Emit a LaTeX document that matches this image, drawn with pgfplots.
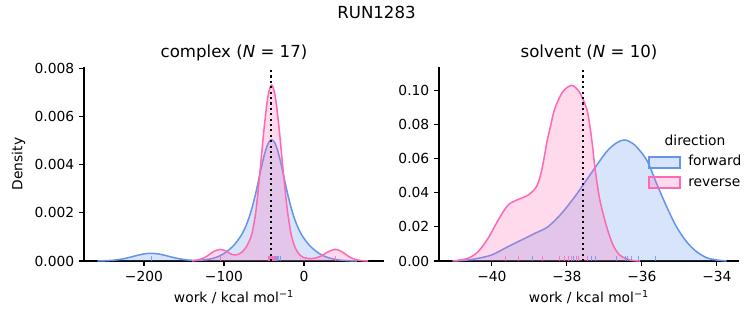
\documentclass[border=0pt]{standalone}
\usepackage{pgfplots}
\usepackage{pgfplotstable}
\pgfplotsset{compat=1.18}
\usepackage{fontspec}
\setmainfont{DejaVu Sans}
\definecolor{fwd}{RGB}{100,149,237}
\definecolor{rev}{RGB}{255,105,180}

\pgfplotstableread{
x y
-258 0
-250 0.000009
-240 0.000027
-230 0.000067
-220 0.000134
-210 0.00022
-200 0.000294
-191 0.00032
-180 0.000282
-170 0.000203
-160 0.00012
-150 0.00006
-140 0.00003
-130 0.000033
-120 0.000067
-110 0.00015
-100 0.00031
-90.5 0.00056
-85.5 0.00074
-80.5 0.00096
-76.5 0.00118
-72.5 0.00146
-68.5 0.00182
-64.5 0.00226
-60.5 0.00279
-56.5 0.00339
-52.5 0.0040
-48.5 0.00453
-44.5 0.0049
-40.5 0.00503
-36.5 0.0049
-32.5 0.00453
-28.5 0.0040
-24.5 0.00339
-20.5 0.00279
-16.5 0.00226
-12.5 0.00182
-8.5 0.00146
-4.5 0.00118
-0.5 0.00096
4.5 0.00074
9.5 0.00056
19.5 0.0003
29.5 0.000146
39.5 0.000063
49.5 0.000025
59.5 0.000008
66 0
}\cfwd

\pgfplotstableread{
x y
-140 0
-135 0.00003
-130 0.000065
-125 0.00013
-120 0.00023
-115 0.00035
-110 0.00044
-105 0.00048
-100 0.00045
-95 0.00036
-90 0.00027
-86 0.00025
-82 0.00028
-78 0.00036
-74 0.0005
-70 0.00072
-65 0.00115
-60 0.0021
-55 0.00372
-50 0.00547
-45 0.00684
-40.5 0.0073
-36 0.00684
-31 0.00547
-26 0.00372
-21 0.00216
-16 0.0011
-11 0.00055
-6 0.00028
-1 0.00015
4 0.00011
9 0.0001
14 0.00012
19 0.00017
24 0.00026
29 0.00036
34 0.00044
39 0.00048
44 0.00044
49 0.00035
54 0.00023
59 0.00013
64 0.000065
69 0.000027
74 0.00001
80 0
}\crev

\pgfplotstableread{
x y
-191 0.0002
-45 0.0002
-42 0.0002
-39 0.0002
-37.5 0.0002
-36 0.0002
-34.5 0.0002
-33 0.0002
-31.5 0.0002
-30 0.0002
}\crugfwd

\pgfplotstableread{
x y
-105 0.0002
-44.6 0.0002
-43.5 0.0002
-42.5 0.0002
-42 0.0002
-41.5 0.0002
-41 0.0002
-40.5 0.0002
-40 0.0002
-39.5 0.0002
-39 0.0002
-38.5 0.0002
-38 0.0002
-37 0.0002
-36 0.0002
39 0.0002
}\crugrev

\pgfplotstableread{
x y
-40.99 0
-40.7 0.0005
-40.45 0.0012
-40.01 0.0035
-39.57 0.0084
-39.21 0.0123
-38.85 0.0162
-38.5 0.0201
-38.14 0.0279
-37.79 0.0376
-37.54 0.0454
-37.3 0.053
-36.94 0.064
-36.67 0.0692
-36.45 0.0708
-36.19 0.0678
-35.87 0.059
-35.61 0.0454
-35.34 0.0318
-35.08 0.0201
-34.81 0.0113
-34.54 0.0054
-34.27 0.0019
-34.01 0.0006
-33.74 0
}\sfwd

\pgfplotstableread{
x y
-41.05 0
-40.85 0.0006
-40.63 0.0016
-40.37 0.0054
-40.1 0.0133
-39.83 0.024
-39.57 0.0327
-39.3 0.036
-39.03 0.0386
-38.81 0.0435
-38.69 0.0513
-38.61 0.060
-38.53 0.0698
-38.43 0.0795
-38.32 0.0893
-38.11 0.099
-37.875 0.1027
-37.67 0.099
-37.475 0.0893
-37.39 0.0795
-37.33 0.0698
-37.28 0.060
-37.23 0.051
-37.12 0.0357
-36.94 0.0201
-36.77 0.0094
-36.59 0.0035
-36.32 0.0006
-36.05 0
}\srev

\pgfplotstableread{
x y
-38.93 0.003
-37.83 0.003
-37.34 0.003
-37.23 0.003
-36.67 0.003
-36.45 0.003
-36.38 0.003
-36.29 0.003
-36.08 0.003
-35.65 0.003
}\srugfwd

\pgfplotstableread{
x y
-39.63 0.003
-39.3 0.003
-38.66 0.003
-38.19 0.003
-38.07 0.003
-37.95 0.003
-37.88 0.003
-37.74 0.003
-37.68 0.003
-37.45 0.003
}\srugrev

\pgfplotsset{
  myaxis/.style={
    scale only axis, width=3in, height=1.94in,
    anchor=south west,
    axis lines=left, axis line style={-, line width=0.8pt},
    tick align=outside, major tick length=3.5pt,
    tick style={line width=0.8pt, black},
    enlargelimits=false, ymin=0,
    tick label style={font=\fontsize{10}{12}\selectfont},
    label style={font=\fontsize{10}{12}\selectfont},
    xlabel={work / kcal mol\textsuperscript{−1}},
    clip=false,
  },
  fillf/.style={draw=none, fill=fwd, fill opacity=0.25, smooth, tension=0.5},
  fillr/.style={draw=none, fill=rev, fill opacity=0.25, smooth, tension=0.5},
  linef/.style={fwd, line width=1.1pt, smooth, tension=0.5, mark=none},
  liner/.style={rev, line width=1.1pt, smooth, tension=0.5, mark=none},
}

\begin{document}
\begin{tikzpicture}
\path[use as bounding box] (0,0) rectangle (7.53in,3.25in);

\begin{axis}[myaxis, at={(0.84in,0.64in)},
  xmin=-275, xmax=100, ymax=0.00805,
  xtick={-200,-100,0}, xticklabels={−200,−100,0},
  ytick={0,0.002,0.004,0.006,0.008},
  yticklabels={0.000,0.002,0.004,0.006,0.008},
  ylabel={Density},
  scaled y ticks=false]
\addplot[fillf] table {\cfwd} \closedcycle;
\addplot[linef] table {\cfwd};
\addplot[fillr] table {\crev} \closedcycle;
\addplot[liner] table {\crev};
\addplot[ycomb, fwd, line width=0.7pt, opacity=0.8, mark=none] table {\crugfwd};
\addplot[ycomb, rev, line width=0.7pt, opacity=0.8, mark=none] table {\crugrev};
\addplot[black, line width=1.5pt, dash pattern=on 1.5pt off 2.4pt] coordinates {(-41.5,0) (-41.5,0.00805)};
\end{axis}

\begin{axis}[myaxis, at={(4.39in,0.64in)},
  xmin=-41.41, xmax=-33.41, ymax=0.1135,
  xtick={-40,-38,-36,-34}, xticklabels={−40,−38,−36,−34},
  ytick={0,0.02,0.04,0.06,0.08,0.1},
  yticklabels={0.00,0.02,0.04,0.06,0.08,0.10},
  scaled y ticks=false]
\addplot[fillf] table {\sfwd} \closedcycle;
\addplot[linef] table {\sfwd};
\addplot[fillr] table {\srev} \closedcycle;
\addplot[liner] table {\srev};
\addplot[ycomb, fwd, line width=0.7pt, opacity=0.8, mark=none] table {\srugfwd};
\addplot[ycomb, rev, line width=0.7pt, opacity=0.8, mark=none] table {\srugrev};
\addplot[black, line width=1.5pt, dash pattern=on 1.5pt off 2.4pt] coordinates {(-37.57,0) (-37.57,0.1135)};
\end{axis}

% titles
\node[anchor=base, font=\fontsize{12}{14}\selectfont] at (3.765in,3.06in) {RUN1283};
\node[anchor=base, font=\fontsize{12}{14}\selectfont] at (2.34in,2.67in) {complex (\textit{N} = 17)};
\node[anchor=base, font=\fontsize{12}{14}\selectfont] at (5.89in,2.67in) {solvent (\textit{N} = 10)};

% legend
\node[anchor=base, font=\fontsize{10}{12}\selectfont] at (6.95in,1.79in) {direction};
\fill[fwd, fill opacity=0.25] (6.49in,1.57in) rectangle (6.80in,1.68in);
\draw[fwd, line width=1.1pt] (6.49in,1.57in) rectangle (6.80in,1.68in);
\node[anchor=base west, inner sep=0pt, font=\fontsize{10}{12}\selectfont] at (6.88in,1.59in) {forward};
\fill[rev, fill opacity=0.25] (6.49in,1.37in) rectangle (6.80in,1.48in);
\draw[rev, line width=1.1pt] (6.49in,1.37in) rectangle (6.80in,1.48in);
\node[anchor=base west, inner sep=0pt, font=\fontsize{10}{12}\selectfont] at (6.88in,1.385in) {reverse};
\end{tikzpicture}
\end{document}
